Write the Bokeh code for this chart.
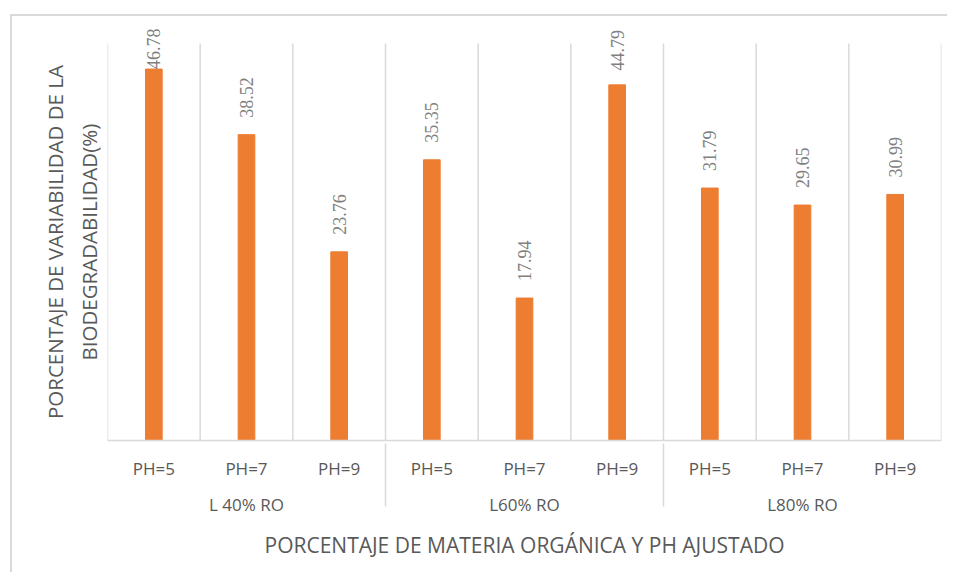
from bokeh.plotting import figure
from bokeh.models import FactorRange, Range1d, ColumnDataSource, LabelSet, Title
from bokeh.embed import file_html
from bokeh.resources import INLINE

# ---- data ----
groups = ["L 40% RO", "L60% RO", "L80% RO"]
ph_levels = ["PH=5", "PH=7", "PH=9"]
values = [46.78, 38.52, 23.76, 35.35, 17.94, 44.79, 31.79, 29.65, 30.99]
value_labels = ["46.78", "38.52", "23.76", "35.35", "17.94", "44.79", "31.79", "29.65", "30.99"]
axis_max = 50
x_title = "PORCENTAJE DE MATERIA ORGÁNICA Y PH AJUSTADO"
y_title_lines = ["PORCENTAJE DE VARIABILIDAD DE LA", "BIODEGRADABILIDAD(%)"]

factors = [(g, ph) for g in groups for ph in ph_levels]

FONT = "Open Sans"
TEXT = "#595959"
GRID = "#D9D9D9"
ORANGE = "#ED7D31"

# chart border via CSS on the figure element (left/top), figure content starts at (12, 16)
OX, OY = 12, 16
W, H = 937, 558
PLOT_L, PLOT_R, PLOT_T, PLOT_B = 107, 941, 43, 440   # plot area (value 0..axis_max)
FRAME_T = 20                                          # frame extends above for labels
LEFT, TOP = PLOT_L - OX, FRAME_T - OY
RIGHT = OX + W - PLOT_R
BOTTOM = OY + H - PLOT_B
ppu = (PLOT_B - PLOT_T) / axis_max
y_end = (PLOT_B - FRAME_T) / ppu

p = figure(
    x_range=FactorRange(*factors, factor_padding=0, group_padding=0, range_padding=0),
    y_range=Range1d(0, y_end),
    width=W, height=H,
    output_backend="svg", toolbar_location=None,
    min_border_left=LEFT, min_border_right=RIGHT,
    min_border_top=TOP, min_border_bottom=BOTTOM,
)
p.styles = {
    "margin-left": "10px",
    "margin-top": "14px",
    "border-left": "2px solid #D9D9D9",
    "border-top": "2px solid #D9D9D9",
}
p.outline_line_color = None
p.xgrid.visible = False
p.ygrid.visible = False
p.yaxis.visible = False
p.background_fill_color = "white"
p.border_fill_color = "white"

# vertical category gridlines (between categories)
n = len(factors)
gsrc = ColumnDataSource(dict(x=[float(i) for i in range(n + 1)],
                             y0=[0] * (n + 1), y1=[axis_max] * (n + 1)))
p.segment(x0="x", y0="y0", x1="x", y1="y1", source=gsrc, line_color=GRID, line_width=1.5)

src = ColumnDataSource(dict(x=factors, top=values, label=value_labels))
p.vbar(x="x", top="top", width=0.18, source=src, fill_color=ORANGE, line_color=ORANGE)

# data labels; pushed down if they would leave the chart area
LABEL_LEN = 48
offs = []
for v in values:
    room = (y_end - v) * ppu - 2 - LABEL_LEN
    offs.append(max(0.0, min(17.0, room)))
src.data["yoff"] = offs
labels = LabelSet(x="x", y="top", text="label", source=src, angle=90, angle_units="deg",
                  text_align="left", text_baseline="middle", y_offset="yoff",
                  text_font=FONT, text_font_size="18px", text_color="#808080")
p.add_layout(labels)

ax = p.xaxis[0]
ax.axis_line_color = GRID
ax.axis_line_width = 1.5
ax.major_tick_line_color = None
ax.minor_tick_line_color = None
ax.major_label_text_font = FONT
ax.major_label_text_font_size = "17px"
ax.major_label_text_color = TEXT
ax.major_label_standoff = 10
ax.group_text_font = FONT
ax.group_text_font_size = "17px"
ax.group_text_color = TEXT
ax.group_text_font_style = "normal"
ax.separator_line_color = GRID
ax.separator_line_width = 1.5
ax.axis_label = x_title
ax.axis_label_text_font = FONT
ax.axis_label_text_font_size = "21px"
ax.axis_label_text_font_style = "normal"
ax.axis_label_text_color = TEXT
ax.axis_label_standoff = 12

# y title: two lines, each centred on the plot area (not on the taller frame);
# estimated rendered lengths of each line at 20.5px Open Sans
est_len = {y_title_lines[0]: 354, y_title_lines[1]: 237}
half = (PLOT_B - PLOT_T) / 2
for line, standoff in zip(reversed(y_title_lines), [9, 0]):
    t = Title(text=line, align="left", offset=half - est_len[line] / 2,
              text_font=FONT, text_font_size="20.5px", text_font_style="normal",
              text_color=TEXT, standoff=standoff)
    p.add_layout(t, "left")

open("out.html", "w").write(file_html(p, INLINE))
